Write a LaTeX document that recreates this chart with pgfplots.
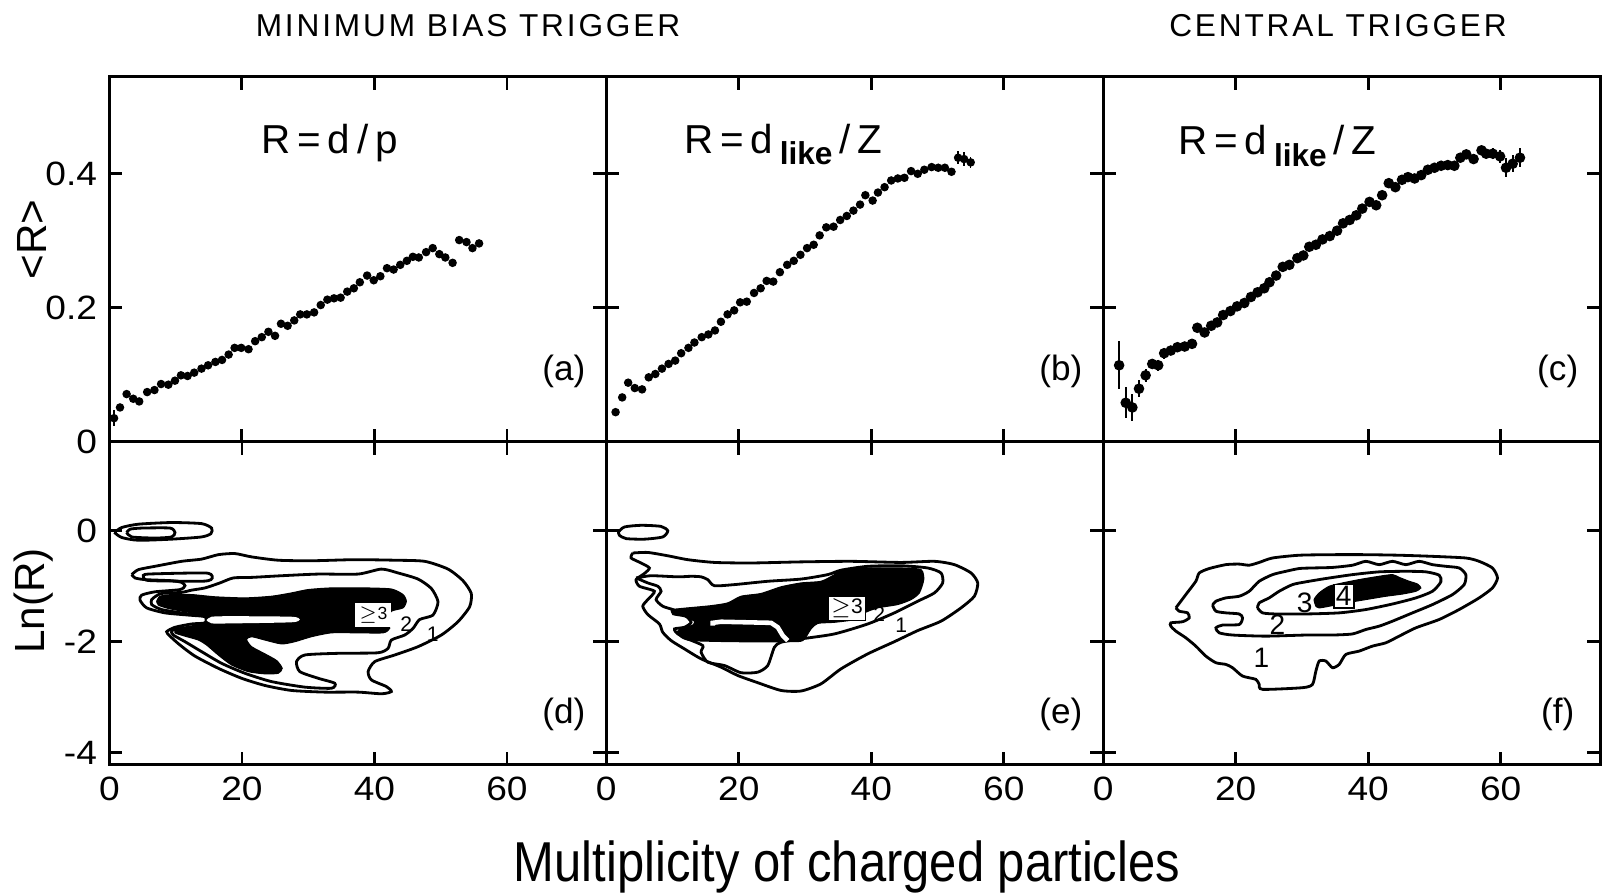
\documentclass[border=0pt]{standalone}
\usepackage{fontspec}
\setmainfont{Liberation Sans}
\newfontfamily\titlefont[LetterSpace=9]{Liberation Sans}
\newfontfamily\xlabfont[FakeStretch=0.87]{Liberation Sans}
\newfontfamily\tickfont[FakeStretch=1.1]{Liberation Sans}
\usepackage{pgfplots}
\pgfplotsset{compat=1.18}

\pgfplotsset{
  panel/.style={scale only axis, width=4.969cm,
    xmin=0, xmax=75, xtick={0,20,40,60},
    tick align=inside, major tick length=1.3mm,
    xtick pos=both, ytick pos=both,
    axis line style={line width=0.9pt},
    tick style={black, line width=0.8pt},
    xticklabels={}, yticklabels={},
    tick label style={font=\tickfont\fontsize{9.6}{10}\selectfont}},
  toprow/.style={panel, height=3.649cm, ymin=0, ymax=0.545, ytick={0,0.2,0.4}},
  botrow/.style={panel, height=3.231cm, ymin=-4.22, ymax=1.61, ytick={-4,-2,0}},
  pts/.style={only marks, mark=*, mark size=1.0pt, black},
  lev/.style={black, line width=0.8pt, smooth, tension=0.4},
  blk/.style={black, fill=black, line width=0.3pt, smooth, tension=0.4},
}
\newcommand{\ttl}{\fontsize{11.5}{12}\selectfont}
\newcommand{\lk}{\raisebox{-0.55ex}{\fontsize{9}{9}\selectfont\bfseries like}}

\begin{document}
\begin{tikzpicture}

% ---------------- top row ----------------
\begin{axis}[toprow, at={(0cm,3.231cm)}, yticklabels={0,0.2,0.4}]
\addplot[pts] coordinates {
 (1.6,0.051) (2.6,0.071) (3.6,0.064) (4.5,0.060) (5.7,0.074) (6.8,0.077)
 (7.8,0.086) (8.9,0.085) (9.9,0.091) (10.8,0.099) (11.8,0.098) (12.8,0.103)
 (13.9,0.109) (14.9,0.114) (16.0,0.119) (17.0,0.122) (18.0,0.130) (18.9,0.140)
 (19.9,0.140) (21.0,0.138) (22.0,0.150) (23.0,0.156) (24.0,0.164) (25.0,0.158)
 (25.9,0.176) (26.9,0.173) (27.9,0.181) (28.8,0.190) (29.8,0.190) (30.9,0.193)
 (31.9,0.204) (32.9,0.212) (33.9,0.214) (34.9,0.215) (35.9,0.224) (36.9,0.229)
 (37.8,0.238) (38.9,0.248) (39.9,0.241) (40.9,0.247) (41.9,0.259) (42.9,0.257)
 (43.9,0.264) (44.9,0.270) (45.8,0.276) (46.7,0.275) (47.8,0.283) (48.8,0.289)
 (49.8,0.280) (50.7,0.275) (51.8,0.267) (52.8,0.301) (53.9,0.298) (54.8,0.289)
 (55.8,0.296)};
\addplot[pts, error bars/.cd, y dir=both, y explicit, error mark=none]
 coordinates {(0.7,0.035) +- (0,0.012)};
\node[anchor=base west, font=\ttl] at (axis cs:21.1,0.43) {R\,=\,d\,/\,p};
\node[font=\fontsize{10}{11}\selectfont] at (axis cs:68.6,0.105) {(a)};
\end{axis}

\begin{axis}[toprow, at={(4.969cm,3.231cm)}]
\addplot[pts] coordinates {
 (1.4,0.044) (2.4,0.066) (3.3,0.088) (4.3,0.080) (5.4,0.078) (6.4,0.096)
 (7.4,0.101) (8.4,0.109) (9.4,0.116) (10.4,0.121) (11.3,0.132) (12.4,0.140)
 (13.3,0.148) (14.4,0.156) (15.4,0.160) (16.4,0.166) (17.3,0.179) (18.3,0.190)
 (19.3,0.196) (20.2,0.208) (21.2,0.209) (22.3,0.222) (23.3,0.229) (24.2,0.240)
 (25.2,0.239) (26.2,0.253) (27.3,0.264) (28.3,0.270) (29.3,0.279) (30.3,0.289)
 (31.3,0.294) (32.2,0.308) (33.2,0.320) (34.3,0.321) (35.3,0.331) (36.3,0.337)
 (37.3,0.345) (38.3,0.354) (39.1,0.368) (40.2,0.360) (41.0,0.372) (42.0,0.380)
 (43.0,0.390) (44.0,0.393) (45.0,0.394) (46.0,0.404) (47.0,0.400) (48.0,0.406)
 (49.1,0.410) (50.1,0.409) (51.1,0.409) (52.1,0.403)};
\addplot[pts, error bars/.cd, y dir=both, y explicit, error mark=none]
 coordinates {(53.1,0.424) +- (0,0.010) (54.0,0.422) +- (0,0.010) (55.0,0.417) +- (0,0.008)};
\node[anchor=base west, font=\ttl] at (axis cs:9.9,0.431) {R\,=\,d\,\lk\,/\,Z};
\node[font=\fontsize{10}{11}\selectfont] at (axis cs:68.6,0.105) {(b)};
\end{axis}

\begin{axis}[toprow, at={(9.938cm,3.231cm)}]
\addplot[pts, mark size=1.3pt, error bars/.cd, y dir=both, y explicit, error mark=none,
  error bar style={line width=0.6pt}] coordinates {
 (2.4,0.114) +- (0,0.036) (3.4,0.058) +- (0,0.023) (4.4,0.051) +- (0,0.020)
 (5.4,0.079) +- (0,0.013) (6.4,0.099) +- (0,0.010) (7.4,0.116) +- (0,0.008)
 (8.3,0.114) +- (0,0.008) (9.2,0.132) +- (0,0.008) (10.2,0.136) +- (0,0.007)
 (11.2,0.141) +- (0,0.007) (12.3,0.142) +- (0,0.006) (13.4,0.146) +- (0,0.006)
 (14.2,0.170) +- (0,0.006) (15.3,0.163) +- (0,0.006) (16.3,0.173) +- (0,0.005)
 (17.2,0.178) +- (0,0.005) (18.1,0.189) +- (0,0.005) (19.2,0.195) +- (0,0.005)
 (20.2,0.202) +- (0,0.005) (21.3,0.207) +- (0,0.005) (22.3,0.216) +- (0,0.005)
 (23.3,0.223) +- (0,0.005) (24.3,0.229) +- (0,0.005) (25.1,0.238) +- (0,0.005)
 (26.1,0.248) +- (0,0.005) (27.1,0.261) +- (0,0.005) (28.1,0.264) +- (0,0.005)
 (29.3,0.274) +- (0,0.005) (30.2,0.278) +- (0,0.005) (31.1,0.291) +- (0,0.005)
 (32.1,0.294) +- (0,0.005) (33.1,0.302) +- (0,0.005) (34.2,0.307) +- (0,0.005)
 (35.3,0.315) +- (0,0.005) (36.2,0.326) +- (0,0.005) (37.2,0.331) +- (0,0.005)
 (38.2,0.338) +- (0,0.005) (39.1,0.348) +- (0,0.005) (40.2,0.358) +- (0,0.005)
 (41.2,0.353) +- (0,0.005) (42.1,0.368) +- (0,0.005) (43.1,0.386) +- (0,0.005)
 (44.1,0.380) +- (0,0.005) (45.1,0.391) +- (0,0.005) (46.0,0.395) +- (0,0.005)
 (47.0,0.393) +- (0,0.005) (48.0,0.398) +- (0,0.005) (49.0,0.406) +- (0,0.005)
 (50.0,0.409) +- (0,0.005) (51.0,0.412) +- (0,0.005) (52.0,0.413) +- (0,0.005)
 (53.0,0.412) +- (0,0.005) (53.9,0.424) +- (0,0.006) (54.8,0.429) +- (0,0.006)
 (55.9,0.422) +- (0,0.006) (57.1,0.435) +- (0,0.007) (57.8,0.430) +- (0,0.007)
 (58.8,0.430) +- (0,0.008) (59.9,0.426) +- (0,0.010) (60.8,0.409) +- (0,0.014)
 (61.8,0.415) +- (0,0.013) (62.9,0.424) +- (0,0.014)};
\node[anchor=base west, font=\ttl] at (axis cs:9.5,0.429) {R\,=\,d\,\lk\,/\,Z};
\node[font=\fontsize{10}{11}\selectfont] at (axis cs:68.6,0.105) {(c)};
\end{axis}

% ---------------- bottom row ----------------
\begin{axis}[botrow, at={(0cm,0cm)}, xticklabels={0,20,40,60}, yticklabels={-4,-2,0}]
% level 1
\addplot[lev] coordinates {(0.75,-0.03)(1.86,0.06)(4.37,0.12)(9.40,0.15)(13.92,0.13)(15.43,0.05)
 (15.33,-0.05)(13.92,-0.11)(9.40,-0.15)(4.37,-0.17)(1.86,-0.12)(0.75,-0.03)};
\addplot[lev] coordinates {(3.37,-0.79)(4.37,-0.70)(6.88,-0.64)(10.90,-0.55)(13.92,-0.51)(16.43,-0.43)
 (18.94,-0.41)(21.46,-0.47)(25.48,-0.53)(30.50,-0.54)(37.04,-0.52)(43.07,-0.53)(47.59,-0.55)
 (51.11,-0.69)(53.37,-0.90)(54.62,-1.13)(54.37,-1.37)(52.61,-1.64)(50.10,-1.88)(46.58,-2.09)
 (43.07,-2.24)(40.05,-2.36)(39.05,-2.54)(39.55,-2.69)(41.81,-2.81)(42.56,-2.90)(41.06,-2.94)
 (37.54,-2.91)(32.51,-2.91)(27.49,-2.88)(23.47,-2.79)(19.95,-2.66)(16.43,-2.48)(12.91,-2.26)
 (10.65,-2.06)(9.15,-1.90)(8.64,-1.82)(9.90,-1.74)(12.41,-1.68)(14.42,-1.66)(14.42,-1.55)
 (11.91,-1.52)(8.39,-1.48)(5.63,-1.39)(4.62,-1.25)(4.87,-1.16)(6.88,-1.10)(10.65,-1.06)
 (11.41,-0.99)(10.90,-0.93)(9.40,-0.90)(5.38,-0.88)(3.87,-0.85)(3.37,-0.79)};
% level 2
\addplot[lev] coordinates {(2.61,-0.03)(3.12,0.03)(4.87,0.05)(9.15,0.05)(9.90,-0.03)(9.40,-0.11)
 (6.88,-0.13)(3.37,-0.11)(2.61,-0.03)};
\addplot[lev] coordinates {(5.13,-0.82)(5.88,-0.78)(14.42,-0.76)(15.53,-0.82)(15.33,-0.88)
 (13.92,-0.91)(6.38,-0.90)(5.28,-0.87)(5.13,-0.82)};
\addplot[lev] coordinates {(6.88,-1.19)(7.89,-1.13)(10.90,-1.11)(12.41,-1.07)(14.42,-1.03)
 (16.68,-0.94)(18.69,-0.85)(21.46,-0.84)(25.98,-0.81)(31.51,-0.78)(37.54,-0.78)(41.06,-0.69)
 (43.57,-0.76)(46.58,-0.87)(48.59,-1.04)(49.60,-1.28)(48.84,-1.52)(46.83,-1.60)(45.83,-1.76)
 (44.57,-1.88)(42.56,-1.97)(42.06,-2.12)(40.55,-2.20)(34.52,-2.21)(29.50,-2.24)(28.24,-2.36)
 (28.74,-2.54)(31.51,-2.66)(34.02,-2.75)(33.52,-2.84)(29.50,-2.82)(24.47,-2.72)(20.45,-2.57)
 (16.93,-2.39)(13.92,-2.18)(11.41,-2.00)(9.65,-1.88)(9.40,-1.80)(10.90,-1.76)(13.42,-1.71)
 (14.67,-1.68)(14.67,-1.54)(11.41,-1.49)(7.89,-1.42)(6.38,-1.33)(6.38,-1.24)(6.88,-1.19)};
% level >= 3
\addplot[blk] coordinates {(7.14,-1.27)(7.64,-1.18)(9.40,-1.15)(12.41,-1.15)(15.93,-1.19)
 (20.45,-1.21)(24.47,-1.18)(27.49,-1.12)(30.00,-1.06)(33.52,-1.03)(38.54,-1.03)(42.56,-1.05)
 (44.32,-1.15)(44.82,-1.27)(44.32,-1.39)(42.56,-1.45)(42.06,-1.60)(42.31,-1.76)(41.31,-1.84)
 (37.54,-1.84)(33.52,-1.84)(30.50,-1.91)(27.99,-2.00)(25.98,-2.04)(23.47,-1.97)(21.46,-1.91)
 (20.70,-1.96)(21.46,-2.09)(23.47,-2.22)(25.23,-2.34)(26.08,-2.48)(25.48,-2.57)(23.47,-2.58)
 (20.95,-2.54)(18.44,-2.42)(16.43,-2.24)(14.67,-2.06)(13.42,-1.97)(11.41,-1.90)(9.90,-1.84)
 (10.15,-1.76)(12.41,-1.73)(14.42,-1.68)(14.42,-1.52)(11.41,-1.46)(8.89,-1.40)(7.39,-1.34)
 (7.14,-1.27)};
\addplot[fill=white, draw=none, smooth, tension=0.4] coordinates {(14.67,-1.61)(15.43,-1.55)
 (18.44,-1.54)(27.49,-1.55)(28.74,-1.60)(27.49,-1.65)(18.44,-1.67)(15.43,-1.67)(14.67,-1.61)};
\node[draw=white, fill=white, inner sep=0.8pt, font=\fontsize{5}{5}\selectfont] at (axis cs:39.8,-1.52) {$\geq$3};
\node[font=\fontsize{6}{6}\selectfont] at (axis cs:44.8,-1.68) {2};
\node[font=\fontsize{6}{6}\selectfont] at (axis cs:48.8,-1.87) {1};
\node[font=\fontsize{10}{11}\selectfont] at (axis cs:68.6,-3.32) {(d)};
\end{axis}

\begin{axis}[botrow, at={(4.969cm,0cm)}, xticklabels={0,20,40,60}]
% level 1
\addplot[lev] coordinates {(1.83,-0.02)(2.74,0.07)(5.25,0.10)(8.27,0.08)(9.28,0.0)(8.52,-0.11)
 (5.76,-0.15)(2.99,-0.14)(1.98,-0.08)(1.83,-0.02)};
\addplot[lev] coordinates {(3.99,-0.40)(6.26,-0.39)(9.28,-0.45)(12.29,-0.52)(16.32,-0.57)
 (21.85,-0.58)(29.40,-0.56)(36.94,-0.55)(44.49,-0.57)(49.52,-0.55)(52.54,-0.61)(55.05,-0.76)
 (56.06,-0.94)(55.55,-1.18)(53.54,-1.39)(50.52,-1.63)(47.00,-1.80)(43.48,-2.00)(39.46,-2.22)
 (35.43,-2.49)(32.41,-2.76)(29.40,-2.89)(26.38,-2.88)(22.86,-2.74)(19.84,-2.61)(17.32,-2.46)
 (14.31,-2.31)(11.79,-2.13)(9.78,-1.98)(8.52,-1.83)(8.02,-1.68)(6.26,-1.51)(5.50,-1.36)
 (6.26,-1.24)(7.26,-1.09)(5.00,-1.00)(4.50,-0.88)(5.75,-0.77)(6.51,-0.67)(5.25,-0.58)
 (3.74,-0.49)(3.99,-0.40)};
% level 2
\addplot[lev] coordinates {(4.50,-0.85)(6.77,-0.81)(10.79,-0.83)(12.80,-0.82)(14.31,-0.83)
 (15.31,-0.88)(16.32,-0.99)(19.34,-0.97)(24.37,-0.91)(29.40,-0.87)(33.42,-0.79)(35.43,-0.71)
 (39.46,-0.64)(44.49,-0.63)(48.51,-0.67)(50.52,-0.76)(50.77,-0.94)(49.52,-1.12)(47.00,-1.27)
 (43.48,-1.48)(39.46,-1.68)(34.43,-1.86)(29.40,-1.95)(26.38,-2.01)(25.37,-2.10)(24.37,-2.43)
 (22.86,-2.55)(20.34,-2.56)(17.83,-2.43)(15.31,-2.37)(14.31,-2.19)(14.56,-2.07)(12.29,-1.95)
 (10.79,-1.86)(10.28,-1.77)(11.79,-1.74)(12.80,-1.65)(11.79,-1.51)(10.03,-1.42)(8.52,-1.36)
 (7.51,-1.24)(8.27,-1.09)(7.77,-1.00)(6.26,-0.94)(4.50,-0.85)};
% level >= 3
\addplot[blk] coordinates {(9.78,-1.42)(12.29,-1.39)(15.81,-1.35)(18.33,-1.30)(20.34,-1.18)
 (23.36,-1.13)(26.38,-1.01)(29.40,-0.94)(32.41,-0.91)(34.43,-0.79)(35.43,-0.70)(39.46,-0.67)
 (44.49,-0.67)(47.50,-0.70)(47.91,-0.88)(47.25,-1.12)(46.00,-1.24)(43.98,-1.33)(40.96,-1.39)
 (38.95,-1.48)(37.45,-1.60)(34.43,-1.65)(31.91,-1.67)(30.90,-1.77)(29.65,-1.98)(27.38,-2.00)
 (19.34,-2.00)(12.80,-1.98)(11.29,-1.92)(10.68,-1.83)(11.29,-1.76)(13.05,-1.70)(13.30,-1.63)
 (11.79,-1.55)(10.03,-1.51)(9.78,-1.42)};
\addplot[white, line width=1.3pt] coordinates {(16.07,-1.71)(16.07,-1.66)(17.32,-1.64)(24.87,-1.66)
 (25.88,-1.74)(26.63,-1.89)(27.38,-1.98)};
\node[draw=black, fill=white, inner sep=0.8pt, font=\fontsize{6}{6}\selectfont] at (axis cs:36.3,-1.40) {$\geq$3};
\node[font=\fontsize{6}{6}\selectfont] at (axis cs:41.2,-1.51) {2};
\node[font=\fontsize{6}{6}\selectfont] at (axis cs:44.5,-1.71) {1};
\node[font=\fontsize{10}{11}\selectfont] at (axis cs:68.6,-3.32) {(e)};
\end{axis}

\begin{axis}[botrow, at={(9.938cm,0cm)}, xticklabels={0,20,40,60}]
% level 1
\addplot[lev] coordinates {(10.97,-1.39)(12.47,-1.15)(13.98,-0.91)(14.49,-0.76)(16.00,-0.68)
 (18.51,-0.61)(20.52,-0.60)(22.03,-0.62)(23.54,-0.57)(25.55,-0.49)(29.58,-0.44)(34.61,-0.43)
 (39.64,-0.43)(44.67,-0.44)(49.70,-0.46)(54.73,-0.49)(56.74,-0.55)(58.75,-0.67)(59.51,-0.85)
 (58.75,-1.03)(56.74,-1.21)(53.72,-1.42)(50.70,-1.60)(47.19,-1.75)(44.67,-1.90)(42.66,-2.02)
 (40.64,-2.08)(38.63,-2.17)(36.62,-2.23)(35.62,-2.41)(34.61,-2.47)(33.61,-2.35)(32.60,-2.35)
 (32.10,-2.53)(31.59,-2.77)(30.08,-2.83)(24.05,-2.86)(23.54,-2.77)(23.04,-2.68)(21.03,-2.62)
 (19.52,-2.47)(18.51,-2.41)(17.01,-2.38)(15.49,-2.26)(13.98,-2.08)(12.47,-1.93)(10.97,-1.81)
 (10.21,-1.72)(10.21,-1.66)(11.98,-1.64)(12.98,-1.57)(12.73,-1.48)(11.47,-1.45)(10.97,-1.39)};
% level 2
\addplot[lev] coordinates {(16.50,-1.34)(17.01,-1.27)(18.51,-1.21)(20.53,-1.18)(22.04,-1.09)
 (23.54,-0.91)(25.56,-0.79)(27.57,-0.73)(29.58,-0.68)(31.59,-0.67)(34.61,-0.66)(37.63,-0.62)
 (39.64,-0.55)(41.65,-0.61)(43.66,-0.55)(45.68,-0.61)(47.69,-0.55)(49.70,-0.61)(51.71,-0.64)
 (53.73,-0.67)(54.73,-0.79)(54.48,-0.97)(52.72,-1.15)(49.70,-1.33)(46.68,-1.48)(43.66,-1.63)
 (41.65,-1.72)(39.64,-1.78)(37.63,-1.86)(34.61,-1.88)(30.59,-1.88)(24.55,-1.90)(19.52,-1.88)
 (17.51,-1.84)(17.01,-1.75)(18.01,-1.70)(20.53,-1.69)(21.03,-1.57)(20.53,-1.50)(18.51,-1.48)
 (17.01,-1.45)(16.50,-1.34)};
% level 3
\addplot[lev] coordinates {(23.29,-1.39)(23.54,-1.30)(25.05,-1.21)(26.56,-1.09)(28.57,-0.97)
 (30.59,-0.92)(33.61,-0.86)(37.63,-0.79)(41.65,-0.74)(45.68,-0.73)(48.70,-0.74)(50.71,-0.80)
 (50.96,-0.92)(49.70,-1.09)(47.19,-1.21)(43.66,-1.32)(39.64,-1.42)(35.62,-1.48)(30.59,-1.50)
 (26.06,-1.50)(24.05,-1.48)(23.29,-1.39)};
% level 4
\addplot[blk] coordinates {(32.10,-1.36)(31.84,-1.24)(32.60,-1.12)(34.11,-1.00)(36.12,-0.94)
 (38.63,-0.88)(41.65,-0.82)(43.66,-0.79)(44.67,-0.84)(46.18,-0.91)(47.44,-0.96)(47.94,-1.03)
 (47.19,-1.09)(45.17,-1.14)(42.66,-1.18)(39.64,-1.24)(36.62,-1.30)(34.11,-1.36)(32.60,-1.39)
 (32.10,-1.36)};
\node[draw=black, fill=white, inner sep=0.6pt, line width=0.5pt, font=\fontsize{8}{8}\selectfont] at (axis cs:36.3,-1.18) {4};
\node[font=\fontsize{8}{8}\selectfont] at (axis cs:30.4,-1.30) {3};
\node[font=\fontsize{8}{8}\selectfont] at (axis cs:26.3,-1.69) {2};
\node[font=\fontsize{8}{8}\selectfont] at (axis cs:23.9,-2.29) {1};
\node[font=\fontsize{10}{11}\selectfont] at (axis cs:68.6,-3.32) {(f)};
\end{axis}

% ---------------- titles and labels ----------------
\node[font=\titlefont\fontsize{9}{10}\selectfont] at (3.586,7.387) {MINIMUM BIAS TRIGGER};
\node[font=\titlefont\fontsize{9}{10}\selectfont] at (12.286,7.387) {CENTRAL TRIGGER};
\node[rotate=90, font=\fontsize{12}{13}\selectfont] at (-0.77,5.25) {<R>};
\node[rotate=90, font=\fontsize{12}{13}\selectfont] at (-0.76,1.637) {Ln(R)};
\node[anchor=base, font=\xlabfont\fontsize{16}{18}\selectfont] at (7.376,-1.163) {Multiplicity of charged particles};

\pgfresetboundingbox
\path[use as bounding box] (-1.094,-1.293) rectangle (14.936,7.647);
\end{tikzpicture}
\end{document}
